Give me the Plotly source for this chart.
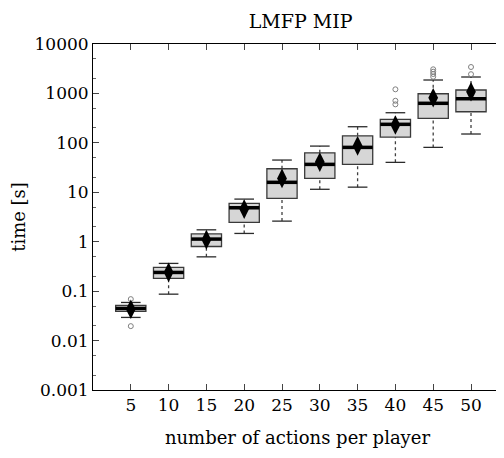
import plotly.graph_objects as go

actions = [5, 10, 15, 20, 25, 30, 35, 40, 45, 50]
q1 = [0.039, 0.181, 0.80, 2.46, 7.53, 19.1, 36.7, 131, 313, 426]
median = [0.0447, 0.239, 1.13, 4.86, 15.9, 36.7, 81, 237, 631, 781]
q3 = [0.0514, 0.302, 1.44, 5.96, 29.9, 63, 139, 299, 986, 1172]
lower_whisker = [0.0294, 0.0869, 0.494, 1.47, 2.61, 11.5, 12.7, 40.3, 81, 151]
upper_whisker = [0.059, 0.364, 1.74, 7.28, 44.9, 86, 212, 407, 1868, 2150]
mean = [0.043, 0.24, 1.1, 4.57, 19.1, 40.8, 87, 229, 818, 1082]

outlier_x = [5, 5, 40, 40, 40, 45, 45, 45, 45, 50, 50]
outlier_y = [0.069, 0.0196, 1211, 711, 601, 3076, 2750, 2470, 2178, 3424, 2450]

tick_vals_y = [0.001, 0.01, 0.1, 1, 10, 100, 1000, 10000]
tick_text_y = ["0.001", "0.01", "0.1", "1", "10", "100", "1000", "10000"]

FONT = "DejaVu Serif"
box_w = 4.0
cap_w = 2.6

fig = go.Figure()

# dashed whiskers
wx, wy = [], []
for x, a, b, c, d in zip(actions, lower_whisker, q1, q3, upper_whisker):
    wx += [x, x, None, x, x, None]
    wy += [a, b, None, c, d, None]
fig.add_trace(go.Scatter(x=wx, y=wy, mode="lines",
                         line=dict(color="#404040", width=1.3, dash="3px,3px"),
                         showlegend=False, hoverinfo="skip"))
# caps
cx, cy = [], []
for x, a, d in zip(actions, lower_whisker, upper_whisker):
    cx += [x - cap_w / 2, x + cap_w / 2, None, x - cap_w / 2, x + cap_w / 2, None]
    cy += [a, a, None, d, d, None]
fig.add_trace(go.Scatter(x=cx, y=cy, mode="lines",
                         line=dict(color="#2a2a2a", width=1.3),
                         showlegend=False, hoverinfo="skip"))

fig.add_trace(go.Box(
    x=actions, q1=q1, median=median, q3=q3,
    lowerfence=q1, upperfence=q3,
    width=box_w, whiskerwidth=0,
    fillcolor="#d6d6d6", line=dict(color="#3a3a3a", width=1.3),
    boxpoints=False, showlegend=False, hoverinfo="skip",
))

# thick median lines
mx, my = [], []
for x, m in zip(actions, median):
    mx += [x - box_w / 2, x + box_w / 2, None]
    my += [m, m, None]
fig.add_trace(go.Scatter(x=mx, y=my, mode="lines",
                         line=dict(color="black", width=3.5),
                         showlegend=False, hoverinfo="skip"))

fig.add_trace(go.Scatter(x=outlier_x, y=outlier_y, mode="markers",
                         marker=dict(symbol="circle-open", size=5,
                                     color="#808080", line=dict(width=1)),
                         showlegend=False, hoverinfo="skip"))

fig.add_trace(go.Scatter(x=actions, y=mean, mode="markers",
                         marker=dict(symbol="diamond-tall", size=14, color="black"),
                         showlegend=False, hoverinfo="skip"))

fig.update_layout(
    width=496, height=450,
    margin=dict(l=85, r=2, t=36, b=68),
    paper_bgcolor="white", plot_bgcolor="white",
    font=dict(family=FONT, size=17, color="black"),
    title=dict(text="LMFP MIP", x=0.59, xanchor="center", y=0.985, yanchor="top",
               pad=dict(t=0, b=0), font=dict(family=FONT, size=19)),
    xaxis=dict(range=[0, 54.1], tickvals=actions, ticktext=[str(a) for a in actions],
               ticks="inside", ticklen=6, tickcolor="#444", mirror="ticks",
               showline=True, linecolor="black", linewidth=1, showgrid=False,
               zeroline=False,
               title=dict(text="number of actions per player", standoff=16,
                          font=dict(family=FONT, size=18))),
    yaxis=dict(type="log", range=[-3, 4], tickvals=tick_vals_y, ticktext=tick_text_y,
               ticks="inside", ticklen=6, tickcolor="#444", mirror="ticks",
               minor=dict(ticks="inside", ticklen=3, tickcolor="#666", showgrid=False),
               showline=True, linecolor="black", linewidth=1, showgrid=False,
               zeroline=False,
               title=dict(text="time [s]", standoff=4,
                          font=dict(family=FONT, size=18))),
)

fig.write_html("out.html")
